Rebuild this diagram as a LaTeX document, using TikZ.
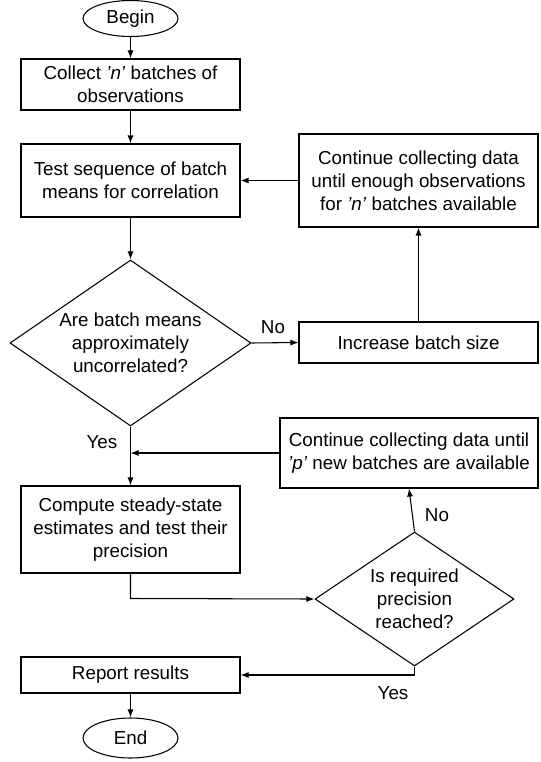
\documentclass[tikz,border=0pt]{standalone}
\usepackage{fontspec}
\setmainfont{Liberation Sans}
\usetikzlibrary{arrows.meta,shapes.geometric}
\newcommand{\upx}{0.75pt}
\begin{document}
\begin{tikzpicture}[x=0.75pt,y=-0.75pt,
  every node/.style={font=\fontsize{14.1}{17.3}\selectfont},
  proc/.style={draw,line width=0.8pt,rectangle,inner sep=0pt,align=center,fill=white},
  term/.style={draw,line width=0.8pt,ellipse,inner sep=0pt,fill=white},
  decide/.style={draw,line width=0.8pt,diamond,inner sep=0pt,fill=white},
  flow/.style={line width=0.8pt,-{Latex[length=6pt,width=4.5pt]}},
  link/.style={line width=0.8pt},
  lbl/.style={inner sep=0pt}]
\useasboundingbox (0,0) rectangle (541,762);

% terminals
\node[term,minimum width=95*\upx,minimum height=36*\upx] (begin) at (130.5,18.5) {Begin};
\node[term,minimum width=95*\upx,minimum height=40*\upx] (end) at (130.5,738) {End};

% process boxes
\node[proc,minimum width=219*\upx,minimum height=51*\upx] (collect) at (130.5,84.5)
  {Collect \textit{'n'} batches of\\observations};
\node[proc,minimum width=219*\upx,minimum height=73*\upx] (test) at (130.5,180.5)
  {Test sequence of batch\\means for correlation};
\node[proc,minimum width=239*\upx,minimum height=93*\upx] (cont1) at (418.5,180.5)
  {Continue collecting data\\until enough observations\\for \textit{'n'} batches available};
\node[proc,minimum width=239*\upx,minimum height=41*\upx] (incr) at (418.5,342.5)
  {Increase batch size};
\node[proc,minimum width=258*\upx,minimum height=70*\upx] (cont2) at (409,453)
  {Continue collecting data until\\\textit{'p'} new batches are available};
\node[proc,minimum width=219*\upx,minimum height=87*\upx] (compute) at (130.5,529.5)
  {Compute steady-state\\estimates and test their\\precision};
\node[proc,minimum width=219*\upx,minimum height=36*\upx] (report) at (130.5,675)
  {Report results};

% decisions
\node[decide,minimum width=241*\upx,minimum height=166*\upx,
  label={[align=center,lbl]center:Are batch means\\approximately\\uncorrelated?}] (dec1) at (130.5,343) {};
\node[decide,minimum width=199*\upx,minimum height=134*\upx,
  label={[align=center,lbl]center:Is required\\precision\\reached?}] (dec2) at (414.5,599) {};

% junction points on the routed connectors
\coordinate (join) at (130.5,453);
\coordinate (cbend) at (130.5,598.5);
\coordinate (ybend) at (414.5,675);

% connectors
\draw[flow] (begin) -- (collect);
\draw[flow] (collect) -- (test);
\draw[flow] (test) -- (dec1);
\draw[flow] (dec1.east) -- (incr.west);
\draw[flow] (incr.north) -- (cont1.south);
\draw[flow] (cont1.west) -- (test.east);
\draw[flow] (dec1.south) -- (compute.north);
\draw[flow] (cont2.west) -- (join);
\draw[flow] (compute.south) -- (cbend) -- (dec2.west);
\draw[flow] (dec2.north) -- (cont2.south);
\draw[flow] (dec2.south) -- (ybend) -- (report.east);
\draw[flow] (report) -- (end);

% branch labels
\node[lbl] (no1) at (273,327) {No};
\node[lbl] (yes1) at (102,442) {Yes};
\node[lbl] (no2) at (437,515) {No};
\node[lbl] (yes2) at (393,693) {Yes};
\end{tikzpicture}
\end{document}
